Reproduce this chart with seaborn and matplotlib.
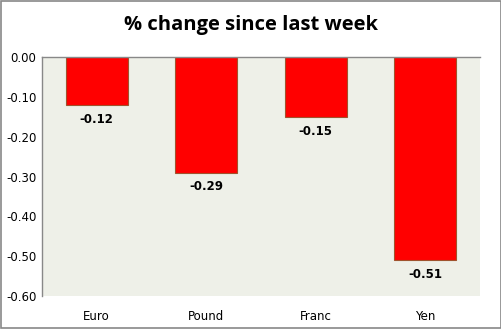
import matplotlib
matplotlib.use("Agg")
import matplotlib.pyplot as plt
import seaborn as sns
import pandas as pd

categories = ["Euro", "Pound", "Franc", "Yen"]
values = [-0.12, -0.29, -0.15, -0.51]
yticks = [0.0, -0.1, -0.2, -0.3, -0.4, -0.5, -0.6]
title = "% change since last week"

sns.set_theme(style="white")
plt.rcParams['font.family'] = ['DejaVu Sans']
plt.rcParams['text.color'] = 'black'
plt.rcParams['xtick.color'] = 'black'
plt.rcParams['ytick.color'] = 'black'
plt.rcParams['axes.labelcolor'] = 'black'

df = pd.DataFrame({"cat": categories, "val": values})

fig = plt.figure(figsize=(5.02, 3.29), dpi=100)
ax = fig.add_axes([42/502, 1 - 296/329, (480-42)/502, (296-57)/329])
ax.set_facecolor("#EEF0E8")
sns.barplot(data=df, x="cat", y="val", color="#FF0000", saturation=1,
            width=0.565, edgecolor="#A0522D", linewidth=0.8, ax=ax)
ax.set_ylim(-0.6, 0.0)
ax.set_xlim(-0.5, 3.5)
ax.set_yticks(yticks)
ax.set_yticklabels([f"{v:.2f}" if v != 0 else "0.00" for v in yticks], fontsize=8.5)
ax.tick_params(axis="x", labelsize=8.5, length=0, pad=10)
ax.tick_params(axis="y", length=0, pad=4)
ax.set_xlabel("")
ax.set_ylabel("")
for s in ["right", "bottom"]:
    ax.spines[s].set_visible(False)
for s in ["left", "top"]:
    ax.spines[s].set_color("#888888")
    ax.spines[s].set_linewidth(1)
for i, v in enumerate(values):
    ax.text(i, v - 0.02, f"{v:.2f}", ha="center", va="top", fontsize=8.5,
            fontweight="bold", color="black")
fig.text(0.5, 1 - 25/329, title, ha="center", va="center", fontsize=14.5, fontweight="bold",
         color="black", family=["Open Sans", "DejaVu Sans"])
fig.patches.append(plt.Rectangle((0.001, 0.002), 0.997, 0.995, transform=fig.transFigure,
                                 fill=False, edgecolor="#888888", linewidth=1.2))
fig.savefig("out.png", dpi=100)
